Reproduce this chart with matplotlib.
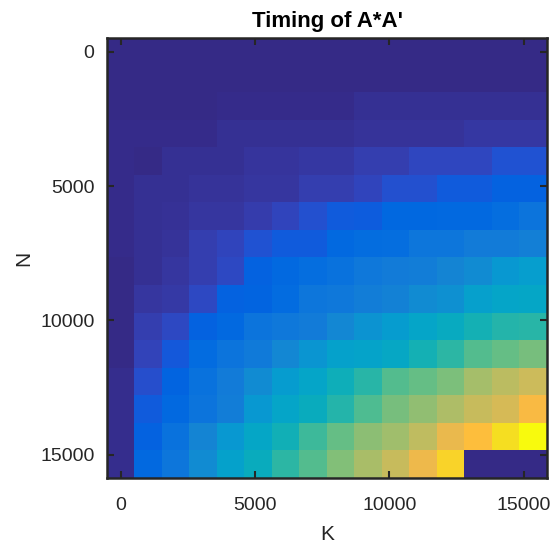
import numpy as np
import matplotlib
matplotlib.use("Agg")
import matplotlib.pyplot as plt
from matplotlib.colors import LinearSegmentedColormap

# Problem sizes (cell centres)
K_vals = [0, 1024, 2048, 3072, 4096, 5120, 6144, 7168, 8192, 9216,
          10240, 11264, 12288, 13312, 14336, 15360]
N_vals = [0, 1024, 2048, 3072, 4096, 5120, 6144, 7168, 8192, 9216,
          10240, 11264, 12288, 13312, 14336, 15360]

# Timing values (relative units, rows = N, cols = K)
timing = [
    [0.0, 0.0, 0.0, 0.0, 0.0, 0.0, 0.0, 0.0, 0.0, 0.0, 0.0, 0.0, 0.0, 0.0, 0.0, 0.0],
    [0.1, 0.1, 0.1, 0.1, 0.2, 0.2, 0.2, 0.2, 0.2, 0.2, 0.2, 0.2, 0.2, 0.2, 0.2, 0.2],
    [0.2, 0.2, 0.2, 0.2, 0.3, 0.3, 0.3, 0.3, 0.3, 1.0, 1.0, 1.0, 1.0, 1.0, 1.0, 1.0],
    [0.3, 0.3, 0.3, 0.4, 1.1, 1.1, 1.1, 1.1, 1.2, 1.6, 1.6, 1.6, 1.6, 2.4, 2.4, 2.4],
    [0.3, 0.2, 1.0, 1.0, 1.0, 1.8, 1.8, 2.4, 2.4, 3.4, 3.4, 4.5, 4.5, 4.5, 6.0, 6.0],
    [0.3, 1.0, 1.0, 1.5, 1.5, 2.2, 2.2, 3.3, 3.3, 4.3, 5.8, 5.8, 7.0, 7.0, 8.0, 8.0],
    [0.3, 1.0, 1.3, 2.2, 2.2, 3.0, 4.3, 5.8, 7.0, 7.2, 9.3, 9.3, 9.5, 9.5, 10.5, 12.0],
    [0.3, 1.0, 1.5, 3.2, 4.3, 6.0, 7.0, 7.0, 9.5, 10.3, 10.5, 12.5, 12.5, 14.0, 14.0, 15.0],
    [0.2, 1.0, 2.2, 3.2, 4.7, 8.0, 9.5, 10.5, 11.5, 13.0, 14.0, 14.5, 16.0, 17.5, 20.0, 21.5],
    [0.2, 2.2, 2.6, 4.8, 8.0, 8.5, 10.0, 12.5, 13.0, 14.5, 15.5, 17.5, 18.5, 22.0, 23.5, 24.0],
    [0.2, 3.2, 4.8, 8.0, 9.5, 12.0, 13.0, 14.0, 16.5, 19.0, 21.0, 23.5, 25.5, 28.0, 30.0, 30.5],
    [0.2, 4.0, 6.8, 10.0, 12.0, 13.5, 16.5, 19.5, 22.5, 23.0, 24.5, 28.0, 31.0, 34.5, 36.0, 37.5],
    [0.6, 5.5, 8.5, 11.5, 14.0, 17.5, 21.0, 23.5, 27.0, 30.5, 34.5, 36.0, 38.0, 42.0, 44.5, 46.5],
    [0.6, 7.0, 9.5, 12.0, 14.5, 20.0, 23.5, 26.0, 30.0, 34.0, 37.5, 40.0, 43.0, 46.0, 47.5, 52.0],
    [0.6, 8.0, 11.5, 16.0, 20.0, 24.0, 27.5, 32.5, 36.0, 39.5, 41.5, 45.0, 50.0, 53.0, 59.0, 63.0],
    [0.6, 9.5, 12.5, 17.5, 22.5, 26.0, 31.0, 34.5, 38.5, 42.5, 46.0, 50.5, 57.0, 0.0, 0.0, 0.0],
]

x_ticks = [0, 5000, 10000, 15000]
y_ticks = [0, 5000, 10000, 15000]

parula_data = [
    [0.2081, 0.1663, 0.5292], [0.2116, 0.1898, 0.5777], [0.2123, 0.2138, 0.6270],
    [0.2081, 0.2386, 0.6771], [0.1959, 0.2645, 0.7279], [0.1707, 0.2919, 0.7792],
    [0.1253, 0.3242, 0.8303], [0.0591, 0.3598, 0.8683], [0.0117, 0.3875, 0.8820],
    [0.0060, 0.4086, 0.8828], [0.0165, 0.4266, 0.8786], [0.0329, 0.4430, 0.8720],
    [0.0498, 0.4586, 0.8641], [0.0629, 0.4737, 0.8554], [0.0723, 0.4887, 0.8467],
    [0.0779, 0.5040, 0.8384], [0.0793, 0.5200, 0.8312], [0.0749, 0.5375, 0.8263],
    [0.0641, 0.5570, 0.8240], [0.0488, 0.5772, 0.8228], [0.0343, 0.5966, 0.8199],
    [0.0265, 0.6137, 0.8135], [0.0239, 0.6287, 0.8038], [0.0231, 0.6418, 0.7913],
    [0.0228, 0.6535, 0.7768], [0.0267, 0.6642, 0.7607], [0.0384, 0.6743, 0.7436],
    [0.0590, 0.6838, 0.7254], [0.0843, 0.6928, 0.7062], [0.1133, 0.7015, 0.6859],
    [0.1453, 0.7098, 0.6646], [0.1801, 0.7177, 0.6424], [0.2178, 0.7250, 0.6193],
    [0.2586, 0.7317, 0.5954], [0.3022, 0.7376, 0.5712], [0.3482, 0.7424, 0.5473],
    [0.3953, 0.7459, 0.5244], [0.4420, 0.7481, 0.5033], [0.4871, 0.7491, 0.4840],
    [0.5300, 0.7491, 0.4661], [0.5709, 0.7485, 0.4494], [0.6099, 0.7473, 0.4337],
    [0.6473, 0.7456, 0.4188], [0.6834, 0.7435, 0.4044], [0.7184, 0.7411, 0.3905],
    [0.7525, 0.7384, 0.3768], [0.7858, 0.7356, 0.3633], [0.8185, 0.7327, 0.3498],
    [0.8507, 0.7299, 0.3360], [0.8824, 0.7274, 0.3217], [0.9139, 0.7258, 0.3063],
    [0.9450, 0.7261, 0.2886], [0.9739, 0.7314, 0.2666], [0.9938, 0.7455, 0.2403],
    [0.9990, 0.7653, 0.2164], [0.9955, 0.7861, 0.1967], [0.9880, 0.8066, 0.1794],
    [0.9789, 0.8271, 0.1633], [0.9697, 0.8481, 0.1475], [0.9626, 0.8705, 0.1309],
    [0.9589, 0.8949, 0.1132], [0.9598, 0.9218, 0.0948], [0.9661, 0.9514, 0.0755],
    [0.9763, 0.9831, 0.0538],
]
parula = LinearSegmentedColormap.from_list("parula", parula_data, N=256)

plt.rcParams['font.family'] = ['Liberation Sans', 'DejaVu Sans']
axcol = '#262626'

fig = plt.figure(figsize=(5.54, 5.43), dpi=100)
ax = fig.add_axes([107 / 554, 1 - 478 / 543, 440 / 554, 440 / 543])

data = np.array(timing)
step = K_vals[1] - K_vals[0]
extent = [K_vals[0] - step / 2, K_vals[-1] + step / 2,
          N_vals[-1] + step / 2, N_vals[0] - step / 2]
ax.imshow(data, cmap=parula, vmin=0, vmax=63, extent=extent,
          aspect='auto', interpolation='nearest', origin='upper')

ax.set_xticks(x_ticks)
ax.set_yticks(y_ticks)
ax.set_xticklabels([str(t) for t in x_ticks])
ax.set_yticklabels([str(t) for t in y_ticks])
ax.tick_params(direction='in', top=True, right=True, length=5, width=1.5,
               colors=axcol, labelsize=14)
ax.tick_params(axis='x', pad=13.5)
ax.tick_params(axis='y', pad=9)
for s in ax.spines.values():
    s.set_linewidth(1.8)
    s.set_color(axcol)

ax.set_xlabel('K', fontsize=15, color=axcol, labelpad=8)
ax.set_ylabel('N', fontsize=15, color=axcol, labelpad=5)
ax.set_title("Timing of A*A'", fontsize=16, fontweight='bold', color='black', pad=8)

fig.savefig('out.png', dpi=100)
